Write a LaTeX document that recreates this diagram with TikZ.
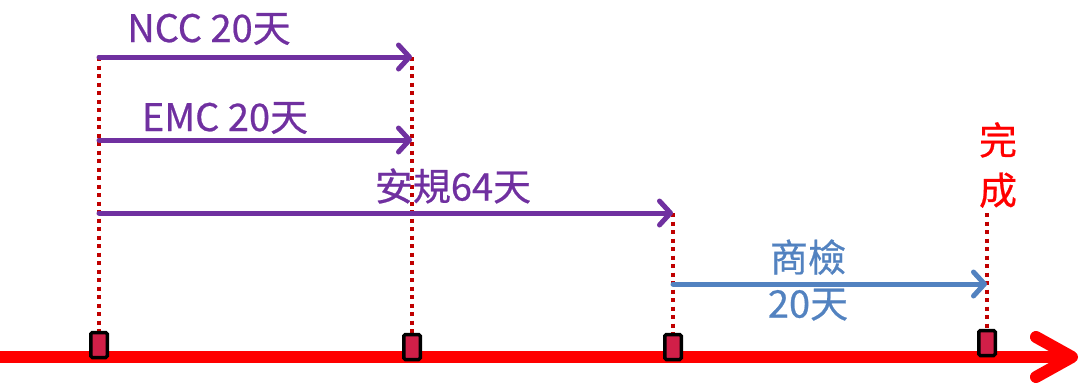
\documentclass[tikz,border=0pt]{standalone}
\usepackage{fontspec}
\newfontfamily\cjk[FakeBold=0.6]{Noto Sans CJK TC}
\usetikzlibrary{arrows.meta}
\definecolor{planpurple}{HTML}{7030A0}
\definecolor{planblue}{HTML}{5282C0}
\definecolor{dotred}{HTML}{C00000}
\definecolor{boxred}{HTML}{D11F48}

\begin{document}
\begin{tikzpicture}[x=1pt, y=-1pt,
    marker/.style = {rectangle, draw=black, line width=3.5pt, fill=boxred, rounded corners=1.5pt,
                     inner sep=0pt, minimum width=16.5pt, minimum height=25pt},
    guide/.style = {dotred, line width=3.5pt, dash pattern=on 4pt off 4.5pt},
    span/.style = {line width=5pt, line cap=round, -{Straight Barb[length=11pt, width=24pt, line join=round, line cap=round]}},
    lbl/.style = {font=\cjk\fontsize{38}{46}\selectfont, inner sep=0pt, align=center}]

    \useasboundingbox (0,0) rectangle (1079,384);

        % Time line:
        \draw [red, line width=12pt] (0,357) -- (1072,357);
        \draw [red, line width=12pt, line cap=round, line join=round] (1036,337) -- (1072,357) -- (1036,377);

        % Tops of the guides:
        \coordinate (t1) at (99,57);
        \coordinate (t2) at (412,57);
        \coordinate (e1) at (99,140);
        \coordinate (e2) at (412,140);
        \coordinate (s1) at (99,213);
        \coordinate (t3) at (673,213);
        \coordinate (t4) at (987,213);
        \coordinate (i4) at (987,284);
        \coordinate (i3) at (673,284);

        % Guides:
        \draw [guide] (t1) -- (99,331);
        \draw [guide] (t2) -- (412,333);
        \draw [guide] (t3) -- (673,333);
        \draw [guide] (t4) -- (987,329);

        % Milestones:
        \node [marker] (m1) at (99,345) {};
        \node [marker] (m2) at (412,347) {};
        \node [marker] (m3) at (673,347) {};
        \node [marker] (m4) at (987,343) {};

        % Spans:
        \draw [span, planpurple] (t1) -- (t2);
        \draw [span, planpurple] (e1) -- (e2);
        \draw [span, planpurple] (s1) -- (t3);
        \draw [span, planblue] (i3) -- (i4);

        % Labels:
        \node [lbl, planpurple] (ncc) at (209,29) {NCC 20天};
        \node [lbl, planpurple] (emc) at (225,118) {EMC 20天};
        \node [lbl, planpurple] (safety) at (453,186) {安規64天};
        \node [lbl, planblue] (inspect) at (808,280) {商檢\\20天};
        \node [lbl, red, font=\cjk\fontsize{38}{50}\selectfont] (done) at (998,165) {完\\成};
\end{tikzpicture}
\end{document}
